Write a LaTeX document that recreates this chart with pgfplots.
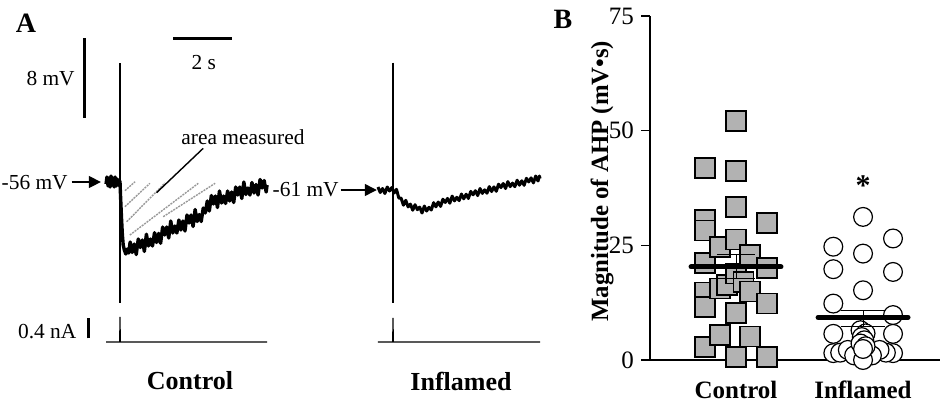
\documentclass[border=0pt]{standalone}
\usepackage{fontspec}
\setmainfont{Liberation Serif}
\usepackage{pgfplots}
\pgfplotsset{compat=1.18}
\usetikzlibrary{arrows.meta}

\begin{document}
\begin{tikzpicture}
% 1 px of the reference = 0.5pt, origin at the top left corner
\useasboundingbox (0,0) rectangle (470pt,-203.5pt);

\pgfplotsset{
  trace axis/.style={hide axis, scale only axis, clip=false, anchor=south west,
    width=145pt, xmin=-4, xmax=6},
  ahp frame/.style={at={(325pt,-180pt)}, anchor=south west, scale only axis,
    width=145pt, height=172pt, xmin=0.323, xmax=2.606, ymin=0, ymax=75, clip=false},
}
\tikzset{
  vtrace/.style={black, line width=1.7pt, line join=round},
  itrace/.style={black, line width=0.6pt},
  artifact/.style={black, line width=0.75pt},
  scalebar/.style={black, line width=1.5pt},
  small label/.style={font=\fontsize{10.7}{13}\selectfont, inner sep=0pt},
  panel label/.style={font=\fontsize{13}{15}\selectfont\bfseries, inner sep=0pt},
  hatch/.style={draw=black!40, line width=0.7pt, dash pattern=on 1pt off 0.5pt},
  pointer/.style={-{Triangle[length=6pt, width=6pt]}, line width=0.7pt},
}

% === A: control, membrane potential (s, mV) ===
\begin{axis}[trace axis, at={(2pt,-156pt)}, height=145pt, ymin=-69, ymax=-40]
% area measured (hatching)
\draw[hatch] (axis cs:0.17,-56.87) -- (axis cs:0.52,-55.97);
\draw[hatch] (axis cs:0.17,-58.47) -- (axis cs:1.03,-56.13);
\draw[hatch] (axis cs:0.23,-59.97) -- (axis cs:1.55,-56.10);
\draw[hatch] (axis cs:0.34,-61.30) -- (axis cs:2.70,-56.13);
\draw[hatch] (axis cs:1.49,-59.47) -- (axis cs:3.28,-56.13);
\addplot[vtrace] coordinates {
  (-0.48,-56.2) (-0.45,-55.5) (-0.41,-56.4) (-0.38,-55.6) (-0.34,-56.5)
  (-0.31,-55.4) (-0.27,-56.3) (-0.24,-55.6) (-0.20,-56.5) (-0.17,-55.5)
  (-0.13,-56.4) (-0.10,-55.7) (-0.06,-56.3) (-0.03,-55.8) (0.00,-56.0)
  (0.02,-57.5) (0.05,-59.5) (0.08,-61.2) (0.11,-62.3) (0.15,-62.8)
  (0.20,-63.2) (0.25,-62.7) (0.30,-63.1)
  (0.35,-62.00) (0.42,-63.05) (0.49,-62.20) (0.56,-63.25) (0.63,-61.70)
  (0.70,-62.55) (0.77,-61.80) (0.84,-62.94) (0.91,-61.22) (0.98,-62.40)
  (1.05,-61.70) (1.12,-62.40) (1.19,-61.07) (1.26,-62.05) (1.33,-61.14)
  (1.40,-62.13) (1.47,-60.50) (1.54,-61.30) (1.61,-60.50) (1.68,-61.60)
  (1.75,-59.90) (1.82,-61.10) (1.89,-60.40) (1.96,-61.10) (2.03,-59.80)
  (2.10,-60.80) (2.17,-59.90) (2.24,-60.90) (2.31,-59.30) (2.38,-60.10)
  (2.45,-59.30) (2.52,-60.45) (2.59,-58.75) (2.66,-59.95) (2.73,-59.25)
  (2.80,-59.95) (2.87,-58.60) (2.94,-59.10) (3.01,-57.90) (3.08,-58.90)
  (3.15,-57.35) (3.22,-58.20) (3.29,-57.40) (3.36,-58.55) (3.43,-56.90)
  (3.50,-58.10) (3.57,-57.40) (3.64,-58.15) (3.71,-56.90) (3.78,-57.90)
  (3.85,-57.00) (3.92,-58.05) (3.99,-56.50) (4.06,-57.30) (4.13,-56.50)
  (4.20,-57.65) (4.27,-56.00) (4.34,-57.25) (4.41,-56.60) (4.48,-57.30)
  (4.55,-56.05) (4.62,-57.10) (4.69,-56.25) (4.76,-57.30) (4.83,-55.75)
  (4.90,-56.60) (4.97,-55.85) (5.04,-57.00) (5.07,-56.30)
};
% stimulus artefact
\addplot[artifact] coordinates {(0,-44.1) (0,-68.1)};
\draw[black, line width=0.7pt] (axis cs:2.87,-52.63) -- (axis cs:1.26,-57.07);
\node[small label] at (axis cs:4.24,-51.5) {area measured};
% scale bars
\draw[scalebar] (axis cs:-1.21,-41.63) -- (axis cs:-1.21,-49.63);
\node[small label, anchor=east] at (axis cs:-1.55,-45.65) {8 mV};
\draw[scalebar] (axis cs:1.84,-41.63) -- (axis cs:3.85,-41.63);
\node[small label] at (axis cs:2.89,-44.05) {2 s};
% resting potential
\draw[pointer] (axis cs:-1.67,-56) -- (axis cs:-0.66,-56);
\node[small label, anchor=east] at (axis cs:-1.79,-56.1) {-56 mV};
\end{axis}

% === A: control, injected current (s, nA) ===
\begin{axis}[trace axis, at={(2pt,-176pt)}, height=25pt, ymin=-0.2, ymax=0.8]
\addplot[itrace] coordinates {(-0.48,0) (-0.01,0) (0,0.5) (0.01,0) (5.07,0)};
\draw[scalebar] (axis cs:-1.09,0.074) -- (axis cs:-1.09,0.474);
\node[small label, anchor=east] at (axis cs:-1.49,0.2) {0.4 nA};
\end{axis}

% === A: inflamed, membrane potential (s, mV) ===
\begin{axis}[trace axis, at={(138.5pt,-160pt)}, height=145pt, ymin=-74, ymax=-45]
\addplot[vtrace, line width=1.5pt] coordinates {
  (-0.52,-60.70) (-0.44,-61.25) (-0.36,-60.85) (-0.28,-61.35) (-0.20,-60.70)
  (-0.12,-61.10) (-0.04,-60.75) (0.04,-61.30) (0.12,-60.93) (0.20,-61.80)
  (0.28,-61.82) (0.36,-62.52) (0.44,-62.03) (0.52,-62.69) (0.60,-62.41)
  (0.68,-63.02) (0.76,-62.47) (0.84,-62.97) (0.92,-62.71) (1.00,-63.30)
  (1.08,-62.60) (1.16,-63.10) (1.24,-62.73) (1.32,-63.00) (1.40,-62.27)
  (1.48,-62.68) (1.56,-62.20) (1.64,-62.64) (1.72,-61.92) (1.80,-62.25)
  (1.88,-61.84) (1.96,-62.32) (2.04,-61.61) (2.12,-62.09) (2.20,-61.73)
  (2.28,-62.06) (2.36,-61.40) (2.44,-61.88) (2.52,-61.42) (2.60,-61.85)
  (2.68,-61.14) (2.76,-61.48) (2.84,-61.07) (2.92,-61.56) (3.00,-60.85)
  (3.08,-61.34) (3.16,-60.98) (3.24,-61.32) (3.32,-60.66) (3.40,-61.15)
  (3.48,-60.69) (3.56,-61.13) (3.64,-60.42) (3.72,-60.76) (3.80,-60.35)
  (3.88,-60.85) (3.96,-60.16) (4.04,-60.66) (4.12,-60.31) (4.20,-60.67)
  (4.28,-60.02) (4.36,-60.52) (4.44,-60.08) (4.52,-60.53) (4.60,-59.83)
  (4.68,-60.19) (4.76,-59.79) (4.84,-60.29) (4.92,-59.60) (5.00,-60.10)
  (5.05,-59.60) (5.07,-59.85)
};
\addplot[artifact] coordinates {(0,-48.27) (0,-72.33)};
\draw[pointer] (axis cs:-1.81,-61) -- (axis cs:-0.56,-61);
\node[small label, anchor=east] at (axis cs:-1.86,-61) {-61 mV};
\end{axis}

% === A: inflamed, injected current (s, nA) ===
\begin{axis}[trace axis, at={(138.5pt,-176pt)}, height=25pt, ymin=-0.2, ymax=0.8]
\addplot[itrace] coordinates {(-0.52,0) (-0.01,0) (0,0.48) (0.01,0) (5.07,0)};
\end{axis}

\node[panel label, font=\fontsize{14}{16}\selectfont\bfseries] at (13pt,-11.75pt) {A};
\node[panel label] at (95pt,-190.5pt) {Control};
\node[panel label] at (230.5pt,-190.5pt) {Inflamed};
\node[panel label, font=\fontsize{14}{16}\selectfont\bfseries] at (281.5pt,-9.75pt) {B};

% === B: magnitude of the AHP, individual cells ===
\begin{axis}[
  ahp frame,
  axis lines=left,
  axis line style={-, line width=0.6pt},
  ytick={0,25,50,75},
  tick align=outside,
  major tick length=4.5pt,
  y tick style={line width=0.6pt, black},
  xtick={1,2}, xticklabels={Control,Inflamed},
  x tick style={draw=none},
  xticklabel style={anchor=center, yshift=-10.5pt,
    font=\fontsize{12.5}{14}\selectfont\bfseries},
  yticklabel style={font=\fontsize{12.5}{14}\selectfont},
  /pgf/number format/assume math mode=true,
  ylabel={Magnitude of AHP (mV•s)},
  ylabel style={at={(axis description cs:-0.1655,0.52)}, anchor=center,
    font=\fontsize{12.4}{14}\selectfont\bfseries},
]
% Control
\addplot[only marks, mark=square*, mark size=5pt,
  mark options={fill=black!30, draw=black, line width=0.8pt}] coordinates {
  (0.756,41.8) (0.756,30.5) (0.756,28.2) (0.756,21.1) (0.756,14.7) (0.756,11.6) (0.756,2.9)
  (0.874,24.7) (0.874,15.6) (0.874,5.4) (0.93,16.3)
  (1.0,52.1) (1.0,41.2) (1.0,33.4) (1.0,26.3) (1.0,18.9) (1.0,10.2) (1.0,0.7)
  (1.11,22.9) (1.06,17.0) (1.11,14.9) (1.11,5.1)
  (1.242,29.9) (1.242,20.0) (1.242,12.3) (1.242,0.7)
};
% Inflamed
\addplot[only marks, mark=*, mark size=4.7pt,
  mark options={fill=white, draw=black, line width=0.6pt}] coordinates {
  (1.766,24.7) (1.766,19.8) (1.766,12.3) (1.766,5.7) (1.766,1.5)
  (2.0,31.2) (2.0,23.2) (2.0,15.2)
  (2.236,26.5) (2.236,19.2) (2.236,9.8) (2.236,5.7) (2.236,1.5)
  (1.82,1.6) (2.18,1.6) (1.88,2.2) (2.13,2.2) (1.93,1.0) (2.07,1.0) (2.0,0.0)
  (1.98,6.5) (2.02,5.8) (1.99,5.0) (2.01,4.3) (1.98,3.6) (2.02,3.0) (2.0,2.4)
};
\node[font=\fontsize{15}{16}\selectfont\bfseries] at (axis cs:2,38) {*};
\end{axis}

% === B: mean and SEM, drawn over the cells ===
\begin{axis}[ahp frame, hide axis]
\addplot[black, line width=0.5pt] coordinates {(1,17.8) (1,22.9)};
\addplot[black, line width=0.5pt] coordinates {(0.85,22.9) (1.15,22.9)};
\addplot[black, line width=0.5pt] coordinates {(0.85,17.8) (1.15,17.8)};
\addplot[black, line width=0.5pt] coordinates {(2,7.4) (2,10.9)};
\addplot[black, line width=0.5pt] coordinates {(1.83,10.9) (2.17,10.9)};
\addplot[black, line width=0.5pt] coordinates {(1.83,7.4) (2.17,7.4)};
\addplot[black, line width=2.5pt, line cap=round] coordinates {(0.646,20.3) (1.354,20.3)};
\addplot[black, line width=2.5pt, line cap=round] coordinates {(1.646,9.3) (2.354,9.3)};
\end{axis}
\end{tikzpicture}
\end{document}
